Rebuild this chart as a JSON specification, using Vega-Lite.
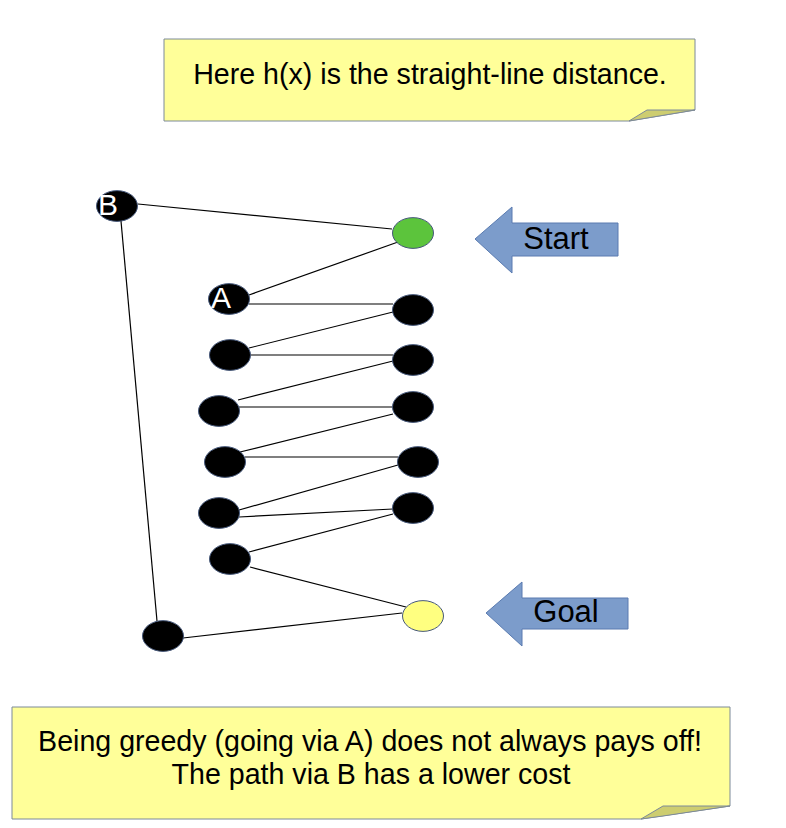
{
  "$schema": "https://vega.github.io/schema/vega-lite/v6.json",
  "width": 786,
  "height": 828,
  "autosize": {"type": "fit", "contains": "padding"},
  "padding": 0,
  "background": "white",
  "config": {"view": {"stroke": null}, "axis": {"disable": true}, "legend": {"disable": true}},
  "datasets": {
    "notes": [
      {"note": "top", "x": 164, "y": 39, "y2": 121},
      {"note": "top", "x": 629, "y": 39, "y2": 121},
      {"note": "top", "x": 695, "y": 39, "y2": 110},
      {"note": "bottom", "x": 12, "y": 707, "y2": 819},
      {"note": "bottom", "x": 641, "y": 707, "y2": 819},
      {"note": "bottom", "x": 730, "y": 707, "y2": 806}
    ],
    "folds": [
      {"note": "top", "x": 629, "y": 121, "y2": 121},
      {"note": "top", "x": 647, "y": 110, "y2": 118},
      {"note": "top", "x": 695, "y": 110, "y2": 110},
      {"note": "bottom", "x": 641, "y": 819, "y2": 819},
      {"note": "bottom", "x": 663, "y": 806, "y2": 816},
      {"note": "bottom", "x": 730, "y": 806, "y2": 806}
    ],
    "arrows": [
      {"arrow": "start", "x": 475, "y": 239, "y2": 239},
      {"arrow": "start", "x": 512, "y": 207, "y2": 273},
      {"arrow": "start", "x": 512, "y": 223, "y2": 256},
      {"arrow": "start", "x": 618, "y": 223, "y2": 256},
      {"arrow": "goal", "x": 486, "y": 613, "y2": 613},
      {"arrow": "goal", "x": 522, "y": 582, "y2": 646},
      {"arrow": "goal", "x": 522, "y": 598, "y2": 629},
      {"arrow": "goal", "x": 628, "y": 598, "y2": 629}
    ],
    "edges": [
      {"x": 138, "y": 204, "x2": 392, "y2": 229},
      {"x": 121, "y": 221, "x2": 157, "y2": 621},
      {"x": 398, "y": 242, "x2": 249, "y2": 295},
      {"x": 249, "y": 304, "x2": 393, "y2": 304},
      {"x": 393, "y": 312, "x2": 249, "y2": 348},
      {"x": 249, "y": 355, "x2": 393, "y2": 355},
      {"x": 393, "y": 361, "x2": 238, "y2": 400},
      {"x": 239, "y": 407, "x2": 393, "y2": 407},
      {"x": 393, "y": 414, "x2": 240, "y2": 452},
      {"x": 245, "y": 457, "x2": 398, "y2": 457},
      {"x": 398, "y": 465, "x2": 239, "y2": 510},
      {"x": 239, "y": 517, "x2": 393, "y2": 509},
      {"x": 393, "y": 514, "x2": 249, "y2": 552},
      {"x": 250, "y": 567, "x2": 406, "y2": 607},
      {"x": 183, "y": 638, "x2": 402, "y2": 613}
    ],
    "nodes": [
      {"x": 117, "y": 206, "kind": "state"},
      {"x": 413, "y": 233, "kind": "start"},
      {"x": 229, "y": 299, "kind": "state"},
      {"x": 413, "y": 310, "kind": "state"},
      {"x": 230, "y": 355, "kind": "state"},
      {"x": 413, "y": 360, "kind": "state"},
      {"x": 219, "y": 411, "kind": "state"},
      {"x": 413, "y": 407, "kind": "state"},
      {"x": 225, "y": 462, "kind": "state"},
      {"x": 418, "y": 462, "kind": "state"},
      {"x": 219, "y": 513, "kind": "state"},
      {"x": 413, "y": 508, "kind": "state"},
      {"x": 230, "y": 559, "kind": "state"},
      {"x": 423, "y": 616, "kind": "goal"},
      {"x": 163, "y": 636, "kind": "state"}
    ],
    "nodeLabels": [
      {"x": 108, "y": 215, "label": "B"},
      {"x": 221, "y": 308, "label": "A"}
    ],
    "arrowLabels": [
      {"x": 556, "y": 249, "label": "Start"},
      {"x": 566, "y": 622, "label": "Goal"}
    ],
    "noteText": [
      {"x": 430, "y": 84, "label": "Here h(x) is the straight-line distance."},
      {"x": 370, "y": 751, "label": "Being greedy (going via A) does not always pays off!"},
      {"x": 371, "y": 784, "label": "The path via B has a lower cost"}
    ]
  },
  "encoding": {
    "x": {"field": "x", "type": "quantitative", "scale": {"domain": [0, 786], "nice": false, "zero": false}},
    "y": {"field": "y", "type": "quantitative", "scale": {"domain": [0, 828], "nice": false, "zero": false, "reverse": true}}
  },
  "layer": [
    {
      "data": {"name": "notes"},
      "mark": {"type": "area", "orient": "vertical", "fill": "#ffff99", "stroke": "#7d8a99", "strokeWidth": 1, "fillOpacity": 1},
      "encoding": {
        "y": {"field": "y", "type": "quantitative", "stack": null},
        "y2": {"field": "y2"},
        "detail": {"field": "note"}
      }
    },
    {
      "data": {"name": "folds"},
      "mark": {"type": "area", "orient": "vertical", "fill": "#cdcd70", "stroke": "#7d8a99", "strokeWidth": 1, "fillOpacity": 1},
      "encoding": {
        "y": {"field": "y", "type": "quantitative", "stack": null},
        "y2": {"field": "y2"},
        "detail": {"field": "note"}
      }
    },
    {
      "data": {"name": "arrows"},
      "mark": {"type": "area", "orient": "vertical", "fill": "#7c9ccb", "stroke": "#5a7bb0", "strokeWidth": 1, "fillOpacity": 1},
      "encoding": {
        "y": {"field": "y", "type": "quantitative", "stack": null},
        "y2": {"field": "y2"},
        "detail": {"field": "arrow"}
      }
    },
    {
      "data": {"name": "edges"},
      "mark": {"type": "rule", "color": "black", "strokeWidth": 1.2},
      "encoding": {
        "x2": {"field": "x2"},
        "y2": {"field": "y2"}
      }
    },
    {
      "data": {"name": "nodes"},
      "mark": {
        "type": "point",
        "shape": "M-1,0A1,0.75,0,1,1,1,0A1,0.75,0,1,1,-1,0Z",
        "size": 1681,
        "filled": true,
        "opacity": 1,
        "stroke": "#46587a",
        "strokeWidth": 1
      },
      "encoding": {
        "fill": {
          "field": "kind",
          "type": "nominal",
          "scale": {"domain": ["state", "start", "goal"], "range": ["#000000", "#5cc43c", "#ffff80"]},
          "legend": null
        }
      }
    },
    {
      "data": {"name": "nodeLabels"},
      "mark": {"type": "text", "font": "Liberation Sans", "fontSize": 30, "color": "white", "align": "center", "baseline": "alphabetic"},
      "encoding": {"text": {"field": "label"}}
    },
    {
      "data": {"name": "arrowLabels"},
      "mark": {"type": "text", "font": "Liberation Sans", "fontSize": 31, "color": "black", "align": "center", "baseline": "alphabetic"},
      "encoding": {"text": {"field": "label"}}
    },
    {
      "data": {"name": "noteText"},
      "mark": {"type": "text", "font": "Liberation Sans", "fontSize": 28.6, "color": "black", "align": "center", "baseline": "alphabetic"},
      "encoding": {"text": {"field": "label"}}
    }
  ]
}
